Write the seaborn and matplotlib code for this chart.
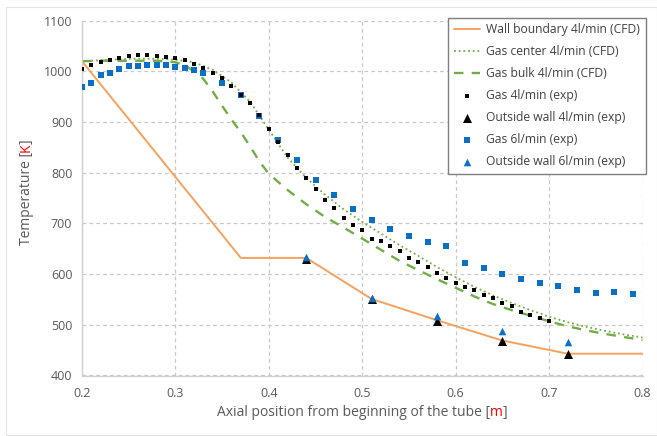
import numpy as np
import pandas as pd
import matplotlib
matplotlib.use("Agg")
import matplotlib.pyplot as plt
import seaborn as sns
from matplotlib.patches import Rectangle

# ---------------- data ----------------
wall_x = [0.20, 0.37, 0.44, 0.51, 0.58, 0.65, 0.72, 0.80]
wall_T = [1020, 632, 632, 551, 509, 469, 443, 443]

center_x = [0.20, 0.22, 0.24, 0.26, 0.28, 0.30, 0.32, 0.34, 0.36, 0.38, 0.40, 0.42, 0.44,
            0.46, 0.48, 0.50, 0.52, 0.54, 0.56, 0.58, 0.60, 0.62, 0.64, 0.66, 0.68, 0.70,
            0.72, 0.74, 0.76, 0.78, 0.80]
center_T = [1020, 1022, 1024, 1025, 1025, 1023, 1018, 1003, 978, 940, 885, 830, 790,
            757, 728, 703, 680, 657, 636, 614, 594, 575, 558, 543, 529, 516,
            505, 496, 488, 481, 475]

bulk_x = [0.20, 0.22, 0.24, 0.26, 0.28, 0.30, 0.31, 0.32, 0.33, 0.34, 0.35, 0.36, 0.37,
          0.38, 0.39, 0.40, 0.42, 0.44, 0.46, 0.48, 0.50, 0.52, 0.54, 0.56, 0.58, 0.60,
          0.62, 0.64, 0.66, 0.68, 0.70, 0.72, 0.74, 0.76, 0.78, 0.80]
bulk_T = [1020, 1021, 1021, 1021, 1021, 1018, 1012, 1000, 985, 960, 932, 905, 880,
          852, 822, 798, 766, 738, 713, 692, 670, 648, 626, 608, 590, 573,
          556, 541, 529, 518, 507, 497, 489, 482, 476, 470]

gas4_x = [0.20, 0.21, 0.22, 0.23, 0.24, 0.25, 0.26, 0.27, 0.28, 0.29, 0.30, 0.31, 0.32,
          0.33, 0.34, 0.35, 0.36, 0.37, 0.38, 0.39, 0.40, 0.41, 0.42, 0.43, 0.44, 0.45,
          0.46, 0.47, 0.48, 0.49, 0.50, 0.51, 0.52, 0.53, 0.54, 0.55, 0.56, 0.57, 0.58,
          0.59, 0.60, 0.61, 0.62, 0.63, 0.64, 0.65, 0.66, 0.67, 0.68, 0.69, 0.70]
gas4_T = [1005, 1013, 1018, 1023, 1026, 1030, 1032, 1032, 1030, 1028, 1026, 1022, 1014,
          1007, 997, 986, 971, 954, 937, 914, 886, 860, 835, 810, 789, 767,
          746, 730, 711, 697, 687, 670, 665, 655, 645, 632, 623, 614, 603,
          593, 583, 574, 569, 558, 552, 544, 537, 526, 519, 513, 507]

gas6_x = [0.20, 0.21, 0.22, 0.23, 0.24, 0.25, 0.26, 0.27, 0.28, 0.29, 0.30, 0.31, 0.32,
          0.33, 0.35, 0.37, 0.39, 0.41, 0.43, 0.45, 0.47, 0.49, 0.51, 0.53, 0.55, 0.57,
          0.59, 0.61, 0.63, 0.65, 0.67, 0.69, 0.71, 0.73, 0.75, 0.77, 0.79]
gas6_T = [970, 977, 993, 996, 1004, 1010, 1010, 1012, 1012, 1012, 1008, 1006, 1003,
          997, 977, 954, 912, 865, 826, 786, 756, 728, 706, 689, 675, 664,
          656, 622, 613, 600, 590, 582, 576, 568, 563, 564, 561]

ow4_x = [0.44, 0.51, 0.58, 0.65, 0.72]
ow4_T = [630, 551, 508, 468, 443]

ow6_x = [0.44, 0.51, 0.58, 0.65, 0.72]
ow6_T = [633, 553, 517, 488, 467]

x_ticks = [0.2, 0.3, 0.4, 0.5, 0.6, 0.7, 0.8]
y_ticks = [400, 500, 600, 700, 800, 900, 1000, 1100]

# ---------------- style ----------------
sns.set_style("white")
plt.rcParams['font.family'] = ['Open Sans', 'DejaVu Sans']

ORANGE = '#F7A15E'
GREEN = '#70AD47'
BLUE = '#0A70C6'
TXT = '#595959'
GRID = '#C8C8C8'

W, H = 657, 436
fig = plt.figure(figsize=(W / 100, H / 100), dpi=100)
left, right = 82 / W, 642.5 / W
top, bottom = 1 - 20.7 / H, 1 - 375.5 / H
ax = fig.add_axes([left, bottom, right - left, top - bottom])

# faint chart-area border
fig.patches.append(Rectangle((6 / W, 1 / H), (W - 6.5) / W, (H - 8) / H,
                             transform=fig.transFigure, fill=False,
                             edgecolor='#E3E3E3', linewidth=0.8))

sns.lineplot(x=wall_x, y=wall_T, ax=ax, color=ORANGE, linewidth=1.4,
             label='Wall boundary 4l/min (CFD)', zorder=2)
sns.lineplot(x=center_x, y=center_T, ax=ax, color=GREEN, linewidth=1.3,
             linestyle=(0, (1, 1.6)), label='Gas center 4l/min (CFD)', zorder=2)
sns.lineplot(x=bulk_x, y=bulk_T, ax=ax, color=GREEN, linewidth=1.7,
             linestyle=(0, (4, 3.5)), label='Gas bulk 4l/min (CFD)', zorder=2)
sns.scatterplot(x=gas4_x, y=gas4_T, ax=ax, color='black', marker='s', s=12,
                linewidth=0, label='Gas 4l/min (exp)', zorder=4)
sns.scatterplot(x=ow4_x, y=ow4_T, ax=ax, color='black', marker='^', s=42,
                linewidth=0, label='Outside wall 4l/min (exp)', zorder=4)
sns.scatterplot(x=gas6_x, y=gas6_T, ax=ax, color=BLUE, marker='s', s=20,
                linewidth=0, label='Gas 6l/min (exp)', zorder=3)
sns.scatterplot(x=ow6_x, y=ow6_T, ax=ax, color=BLUE, marker='^', s=30,
                linewidth=0, label='Outside wall 6l/min (exp)', zorder=5)

ax.set_xlim(0.2, 0.8)
ax.set_ylim(400, 1100)
ax.set_xticks(x_ticks)
ax.set_yticks(y_ticks)
ax.set_xticklabels([f"{v:.1f}" for v in x_ticks])
ax.set_yticklabels([str(v) for v in y_ticks])
ax.tick_params(axis='both', length=0, labelsize=9, colors=TXT, pad=7)
ax.tick_params(axis='x', pad=8)

ax.grid(True, color=GRID, linestyle=(0, (3, 2.5)), linewidth=0.9)
ax.set_axisbelow(True)
for s in ['top', 'right']:
    ax.spines[s].set_visible(False)
for s in ['left', 'bottom']:
    ax.spines[s].set_color('#D0D0D0')
    ax.spines[s].set_linewidth(1.0)

leg = ax.legend(loc='upper right', bbox_to_anchor=(645.5 / W, 1 - 18 / H),
                bbox_transform=fig.transFigure, fontsize=8.7, frameon=True,
                fancybox=False, edgecolor='#7F7F7F', framealpha=1,
                labelspacing=0.74, handlelength=2.2, handletextpad=0.5,
                borderpad=0.45, borderaxespad=0)
leg.get_frame().set_linewidth(1.0)
for t in leg.get_texts():
    t.set_color('#404040')

# multi-coloured axis labels
fig.canvas.draw()
r = fig.canvas.get_renderer()


def coloured_h(parts, xc, yc, size):
    texts = []
    for s, c in parts:
        texts.append(fig.text(0, yc, s, color=c, fontsize=size, va='center', ha='left'))
    widths = [t.get_window_extent(r).width for t in texts]
    total = sum(widths)
    x = xc * W - total / 2
    for t, w in zip(texts, widths):
        t.set_position((x / W, yc))
        x += w


def coloured_v(parts, xc, yc, size):
    texts = []
    for s, c in parts:
        texts.append(fig.text(xc, 0, s, color=c, fontsize=size, va='center',
                              ha='center', rotation=90, rotation_mode='anchor'))
    heights = [t.get_window_extent(r).height for t in texts]
    total = sum(heights)
    y = yc * H - total / 2
    for t, h in zip(texts, heights):
        t.set_position((xc, (y + h / 2) / H))
        y += h


coloured_h([("Axial position from beginning of the tube [", TXT), ("m", '#FF0000'), ("]", TXT)],
           (362) / W, 1 - 412 / H, 10)
coloured_v([("Temperature [", TXT), ("K", '#FF0000'), ("]", TXT)],
           26 / W, 1 - 192 / H, 10)

fig.savefig("out.png", dpi=100)
